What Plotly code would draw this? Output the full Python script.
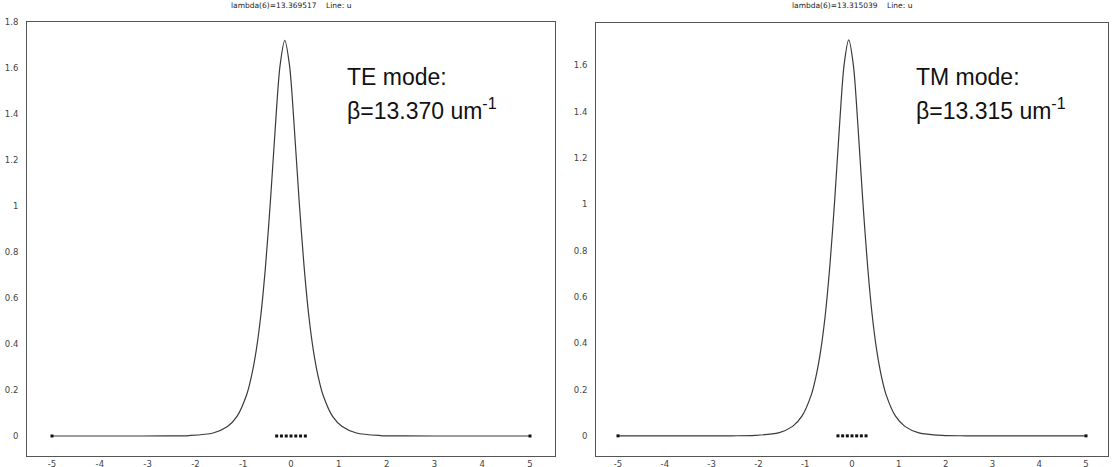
import plotly.graph_objects as go

# ---- data ----
te_x = [-5.0, -3.5, -2.63, -2.13, -1.63, -1.33, -1.13, -0.93, -0.83, -0.73, -0.63, -0.53, -0.43, -0.33, -0.23,
        -0.13, -0.03, 0.07, 0.17, 0.27, 0.37, 0.47, 0.57, 0.67, 0.87, 1.07, 1.37, 1.87, 2.37, 3.5, 5.0]
te_y = [0.0, 0.0, 0.0003, 0.002, 0.013, 0.041, 0.085, 0.178, 0.257, 0.369, 0.527, 0.746, 1.023, 1.337, 1.609,
        1.72, 1.609, 1.337, 1.023, 0.746, 0.527, 0.369, 0.257, 0.178, 0.085, 0.041, 0.013, 0.002, 0.0003, 0.0, 0.0]

tm_x = [-5.0, -3.5, -2.57, -2.07, -1.57, -1.27, -1.07, -0.87, -0.77, -0.67, -0.57, -0.47, -0.37, -0.27, -0.17,
        -0.07, 0.03, 0.13, 0.23, 0.33, 0.43, 0.53, 0.63, 0.73, 0.93, 1.13, 1.43, 1.93, 2.43, 3.5, 5.0]
tm_y = [0.0, 0.0, 0.0003, 0.002, 0.013, 0.041, 0.085, 0.177, 0.256, 0.367, 0.524, 0.742, 1.017, 1.329, 1.600,
        1.71, 1.600, 1.329, 1.017, 0.742, 0.524, 0.367, 0.256, 0.177, 0.085, 0.041, 0.013, 0.002, 0.0003, 0.0, 0.0]

end_x = [-5, 5]
end_y = [0, 0]
core_x = [-0.3, -0.2, -0.1, 0.0, 0.1, 0.2, 0.3]
core_y = [0, 0, 0, 0, 0, 0, 0]

x_ticks = [-5, -4, -3, -2, -1, 0, 1, 2, 3, 4, 5]
x_tick_text = ["-5", "-4", "-3", "-2", "-1", "0", "1", "2", "3", "4", "5"]
y_ticks = [0, 0.2, 0.4, 0.6, 0.8, 1.0, 1.2, 1.4, 1.6, 1.8]
y_tick_text = ["0", "0.2", "0.4", "0.6", "0.8", "1", "1.2", "1.4", "1.6", "1.8"]

titles = ["lambda(6)=13.369517    Line: u", "lambda(6)=13.315039    Line: u"]
mode_labels = ["TE mode:", "TM mode:"]
beta_labels = ["\u03b2=13.370 um<sup>-1</sup>", "\u03b2=13.315 um<sup>-1</sup>"]

W, H = 1113, 467
curve_color = "#3a3a3a"

fig = go.Figure()
panels = [
    dict(xd=(27, 555), yd=(22, 456), xr=(-5.523, 5.523), yr=(-0.087, 1.8), cx=te_x, cy=te_y),
    dict(xd=(596, 1108), yd=(23, 456), xr=(-5.47, 5.47), yr=(-0.087, 1.783), cx=tm_x, cy=tm_y),
]

for i, p in enumerate(panels):
    sfx = "" if i == 0 else "2"
    xa, ya = "x" + sfx, "y" + sfx
    fig.add_trace(go.Scatter(x=p["cx"], y=p["cy"], mode="lines",
                             line=dict(color=curve_color, width=1.2, shape="spline", smoothing=0.8),
                             xaxis=xa, yaxis=ya, showlegend=False, hoverinfo="skip"))
    fig.add_trace(go.Scatter(x=end_x, y=end_y, mode="markers", marker=dict(symbol="square", size=3, color="#111"),
                             xaxis=xa, yaxis=ya, showlegend=False, hoverinfo="skip"))
    fig.add_trace(go.Scatter(x=core_x, y=core_y, mode="markers", marker=dict(symbol="square", size=3, color="#111"),
                             xaxis=xa, yaxis=ya, showlegend=False, hoverinfo="skip"))
    axis_common = dict(showgrid=False, zeroline=False, showline=True, mirror=True, linecolor="#555", linewidth=1,
                       ticks="", automargin=False, tickfont=dict(family="DejaVu Sans", size=8.5, color="#444"))
    fig.layout["xaxis" + sfx] = dict(domain=[p["xd"][0] / W, p["xd"][1] / W], range=list(p["xr"]), anchor=ya,
                                     tickvals=x_ticks, ticktext=x_tick_text, ticklabelstandoff=0, **axis_common)
    fig.layout["yaxis" + sfx] = dict(domain=[1 - p["yd"][1] / H, 1 - p["yd"][0] / H], range=list(p["yr"]), anchor=xa,
                                     tickvals=y_ticks, ticktext=y_tick_text, ticklabelstandoff=6, **axis_common)
    fig.add_annotation(x=(p["xd"][0] + p["xd"][1]) / 2 / W, y=1 - 6 / H, xref="paper", yref="paper",
                       text=titles[i], showarrow=False, font=dict(family="DejaVu Sans", size=7.5, color="#222"),
                       xanchor="center", yanchor="middle")
    fig.add_annotation(x=(p["xd"][0] + 318) / W, y=1 - 77 / H, xref="paper", yref="paper",
                       text=mode_labels[i], showarrow=False, align="left",
                       font=dict(family="Liberation Sans", size=23, color="#111"),
                       xanchor="left", yanchor="middle")
    fig.add_annotation(x=(p["xd"][0] + 318) / W, y=1 - 109 / H, xref="paper", yref="paper",
                       text=beta_labels[i], showarrow=False, align="left",
                       font=dict(family="Liberation Sans", size=23, color="#111"),
                       xanchor="left", yanchor="middle")

fig.update_layout(width=W, height=H, margin=dict(l=0, r=0, t=0, b=0),
                  paper_bgcolor="white", plot_bgcolor="white")

fig.write_html("out.html", config={"displayModeBar": False},
               post_script="document.body.style.margin='0';")
